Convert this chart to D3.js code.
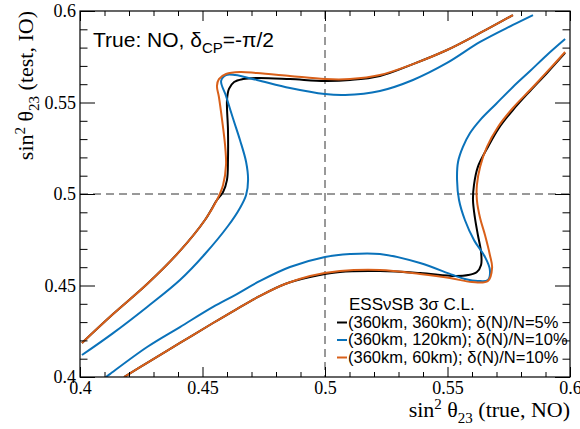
<!DOCTYPE html>
<html>
<head>
<meta charset="utf-8">
<script src="https://cdn.jsdelivr.net/npm/d3@7"></script>
<style>
  body { margin: 0; background: #fff; }
  .axis text { font-family: "Liberation Serif", serif; font-size: 18px; fill: #000; }
  .axis line { stroke: #000; }
  .axis path { display: none; }
</style>
</head>
<body>
<div id="chart"></div>
<script>
// sin^2 theta23 contours

// Tick labels
var majorTicks = [0.4, 0.45, 0.5, 0.55, 0.6];
var majorLabels = ["0.4", "0.45", "0.5", "0.55", "0.6"];
var minorTicks = [0.41, 0.42, 0.43, 0.44, 0.46, 0.47, 0.48, 0.49, 0.51, 0.52, 0.53, 0.54, 0.56, 0.57, 0.58, 0.59];

// Legend entries
var seriesNames = ["(360km, 360km); \u03b4(N)/N=5%", "(360km, 120km); \u03b4(N)/N=10%", "(360km, 60km); \u03b4(N)/N=10%"];
var seriesColors = ["#000000", "#0a72ba", "#d9601a"];

// Black: (360km, 360km)
var blackUpper = [[0.4008,0.4186],[0.4135,0.4344],[0.4274,0.4508],[0.4408,0.4689],[0.4510,0.4858],[0.4559,0.4967],[0.4584,0.5011],[0.4600,0.5077],[0.4604,0.5186],[0.4604,0.5350],[0.4600,0.5514],[0.4608,0.5574],[0.4629,0.5612],[0.4665,0.5628],[0.4722,0.5634],[0.4857,0.5628],[0.5,0.5618],[0.5102,0.5623],[0.5224,0.5645],[0.5359,0.5710],[0.5498,0.5787],[0.5633,0.5880],[0.5767,0.5978]];
var blackLower = [[0.5980,0.5771],[0.5906,0.5661],[0.5837,0.5563],[0.5767,0.5459],[0.5710,0.5361],[0.5665,0.5257],[0.5624,0.5148],[0.5608,0.5049],[0.5604,0.4967],[0.5612,0.4869],[0.5624,0.4776],[0.5637,0.4683],[0.5637,0.4612],[0.5620,0.4574],[0.5584,0.4557],[0.5531,0.4552],[0.5388,0.4568],[0.5224,0.4579],[0.5061,0.4574],[0.4939,0.4546],[0.4837,0.4508],[0.4735,0.4443],[0.4633,0.4366],[0.4543,0.4295],[0.4408,0.4186],[0.4274,0.4077],[0.4180,0.4]];

// Blue: (360km, 120km)
var blueUpper = [[0.4008,0.4120],[0.4135,0.4240],[0.4274,0.4383],[0.4408,0.4530],[0.4510,0.4672],[0.4604,0.4825],[0.4653,0.4924],[0.4678,0.4995],[0.4686,0.5077],[0.4678,0.5175],[0.4653,0.5295],[0.4624,0.5415],[0.4596,0.5536],[0.4576,0.5618],[0.4596,0.5650],[0.4633,0.5650],[0.4722,0.5623],[0.4857,0.5579],[0.5,0.5546],[0.5082,0.5541],[0.5224,0.5563],[0.5359,0.5623],[0.5498,0.5716],[0.5633,0.5831],[0.5767,0.5924],[0.5849,0.5978]];
var blueLower = [[0.5980,0.5847],[0.5906,0.5760],[0.5837,0.5672],[0.5767,0.5585],[0.5698,0.5492],[0.5633,0.5404],[0.5592,0.5333],[0.5563,0.5257],[0.5543,0.5175],[0.5539,0.5077],[0.5547,0.4967],[0.5571,0.4858],[0.5608,0.4749],[0.5653,0.4656],[0.5673,0.4585],[0.5665,0.4530],[0.5624,0.4525],[0.5571,0.4536],[0.5522,0.4557],[0.5388,0.4623],[0.5224,0.4672],[0.5102,0.4672],[0.5,0.4656],[0.4857,0.4601],[0.4735,0.4525],[0.4633,0.4448],[0.4543,0.4383],[0.4408,0.4273],[0.4274,0.4164],[0.4122,0.4016],[0.4106,0.4]];

// Orange: (360km, 60km)
var orangeUpper = [[0.4008,0.4186],[0.4135,0.4344],[0.4274,0.4508],[0.4408,0.4689],[0.4510,0.4858],[0.4559,0.4967],[0.4584,0.5049],[0.4596,0.5159],[0.4592,0.5268],[0.4580,0.5404],[0.4567,0.5530],[0.4559,0.5590],[0.4567,0.5628],[0.4596,0.5656],[0.4653,0.5667],[0.4722,0.5661],[0.4857,0.5645],[0.5,0.5628],[0.5102,0.5628],[0.5224,0.5650],[0.5359,0.5710],[0.5498,0.5787],[0.5633,0.5880],[0.5767,0.5978]];
var orangeLower = [[0.5980,0.5776],[0.5906,0.5667],[0.5837,0.5568],[0.5767,0.5470],[0.5706,0.5366],[0.5661,0.5257],[0.5633,0.5148],[0.5620,0.5049],[0.5620,0.4967],[0.5633,0.4869],[0.5653,0.4776],[0.5673,0.4667],[0.5682,0.4596],[0.5665,0.4525],[0.5600,0.4519],[0.5510,0.4541],[0.5388,0.4563],[0.5224,0.4585],[0.5061,0.4579],[0.4939,0.4552],[0.4837,0.4508],[0.4735,0.4443],[0.4633,0.4366],[0.4543,0.4295],[0.4408,0.4186],[0.4274,0.4077],[0.4180,0.4]];

var contours = [
  [blackUpper, blackLower],
  [blueUpper, blueLower],
  [orangeUpper, orangeLower]
];

// Chart details
var svgWidth = 580;
var svgHeight = 429;
var margin = { top: 11, right: 10, bottom: 52, left: 80 };
var width = svgWidth - margin.left - margin.right;
var height = svgHeight - margin.top - margin.bottom;

var svg = d3.select("#chart").append("svg")
  .attr("width", svgWidth)
  .attr("height", svgHeight);

var chartGroup = svg.append("g")
  .attr("transform", `translate(${margin.left}, ${margin.top})`);

var xScale = d3.scaleLinear().domain([0.4, 0.6]).range([0, width]);
var yScale = d3.scaleLinear().domain([0.4, 0.6]).range([height, 0]);

svg.append("defs").append("clipPath")
  .attr("id", "plotClip")
  .append("rect")
  .attr("width", width)
  .attr("height", height);

// Dashed guides at 0.5
chartGroup.append("line")
  .attr("x1", xScale(0.5)).attr("x2", xScale(0.5))
  .attr("y1", 0).attr("y2", height)
  .attr("stroke", "#333").attr("stroke-width", 1)
  .attr("stroke-dasharray", "8,5");

chartGroup.append("line")
  .attr("x1", 0).attr("x2", width)
  .attr("y1", yScale(0.5)).attr("y2", yScale(0.5))
  .attr("stroke", "#333").attr("stroke-width", 1)
  .attr("stroke-dasharray", "8,5");

// Contours
var line = d3.line()
  .x(d => xScale(d[0]))
  .y(d => yScale(d[1]))
  .curve(d3.curveCatmullRom.alpha(0.5));

var curveGroup = chartGroup.append("g").attr("clip-path", "url(#plotClip)");
contours.forEach(function(branches, i) {
  branches.forEach(function(pts) {
    curveGroup.append("path")
      .datum(pts)
      .attr("d", line)
      .attr("fill", "none")
      .attr("stroke", seriesColors[i])
      .attr("stroke-width", 2);
  });
});

// Axes: ticks on all four sides, pointing inward
var labelFmt = d => majorLabels[majorTicks.indexOf(d)];

chartGroup.append("g").classed("axis", true)
  .attr("transform", `translate(0, ${height})`)
  .call(d3.axisBottom(xScale).tickValues(majorTicks).tickSize(-10).tickPadding(4).tickFormat(labelFmt));
chartGroup.append("g").classed("axis", true)
  .attr("transform", `translate(0, ${height})`)
  .call(d3.axisBottom(xScale).tickValues(minorTicks).tickSize(-5).tickFormat(""));
chartGroup.append("g").classed("axis", true)
  .call(d3.axisTop(xScale).tickValues(majorTicks).tickSize(-10).tickFormat(""));
chartGroup.append("g").classed("axis", true)
  .call(d3.axisTop(xScale).tickValues(minorTicks).tickSize(-5).tickFormat(""));

chartGroup.append("g").classed("axis", true)
  .call(d3.axisLeft(yScale).tickValues(majorTicks).tickSize(-15).tickPadding(4).tickFormat(labelFmt));
chartGroup.append("g").classed("axis", true)
  .call(d3.axisLeft(yScale).tickValues(minorTicks).tickSize(-7.5).tickFormat(""));
chartGroup.append("g").classed("axis", true)
  .attr("transform", `translate(${width}, 0)`)
  .call(d3.axisRight(yScale).tickValues(majorTicks).tickSize(-15).tickFormat(""));
chartGroup.append("g").classed("axis", true)
  .attr("transform", `translate(${width}, 0)`)
  .call(d3.axisRight(yScale).tickValues(minorTicks).tickSize(-7.5).tickFormat(""));

// Frame
chartGroup.append("rect")
  .attr("width", width)
  .attr("height", height)
  .attr("fill", "none")
  .attr("stroke", "#000")
  .attr("stroke-width", 1.2);

// Axis titles
function sinTitle(sel, rest) {
  sel.append("tspan").text("sin");
  sel.append("tspan").attr("dy", -8).attr("font-size", "15px").text("2");
  sel.append("tspan").attr("dy", 8).text(" \u03b8");
  sel.append("tspan").attr("dy", 6).attr("font-size", "15px").text("23");
  sel.append("tspan").attr("dy", -6).text(rest);
}

var xTitle = svg.append("text")
  .attr("x", margin.left + width)
  .attr("y", 417)
  .attr("text-anchor", "end")
  .style("font-family", "Liberation Serif, serif")
  .style("font-size", "22px");
sinTitle(xTitle, " (true, NO)");

var yTitle = svg.append("text")
  .attr("transform", "translate(33, 11) rotate(-90)")
  .attr("text-anchor", "end")
  .style("font-family", "Liberation Serif, serif")
  .style("font-size", "22px");
sinTitle(yTitle, " (test, IO)");

// Scenario label
var info = svg.append("text")
  .attr("x", 93)
  .attr("y", 47)
  .style("font-family", "Liberation Sans, Arial, sans-serif")
  .style("font-size", "21px");
info.append("tspan").text("True: NO, \u03b4");
info.append("tspan").attr("dy", 6).attr("font-size", "15px").text("CP");
info.append("tspan").attr("dy", -6).text("=-\u03c0/2");

// Legend
var legend = svg.append("g").attr("transform", "translate(337, 310)");
legend.append("text")
  .attr("x", 12)
  .attr("y", 0)
  .style("font-family", "Liberation Sans, Arial, sans-serif")
  .style("font-size", "17px")
  .text("ESS\u03bdSB 3\u03c3 C.L.");

seriesNames.forEach(function(name, i) {
  var row = legend.append("g").attr("transform", `translate(0, ${17.5 * (i + 1)})`);
  row.append("line")
    .attr("x1", 0).attr("x2", 10)
    .attr("y1", -5).attr("y2", -5)
    .attr("stroke", seriesColors[i])
    .attr("stroke-width", 2);
  row.append("text")
    .attr("x", 11)
    .attr("y", 0)
    .style("font-family", "Liberation Sans, Arial, sans-serif")
    .style("font-size", "16.5px")
    .text(name);
});
</script>
</body>
</html>
